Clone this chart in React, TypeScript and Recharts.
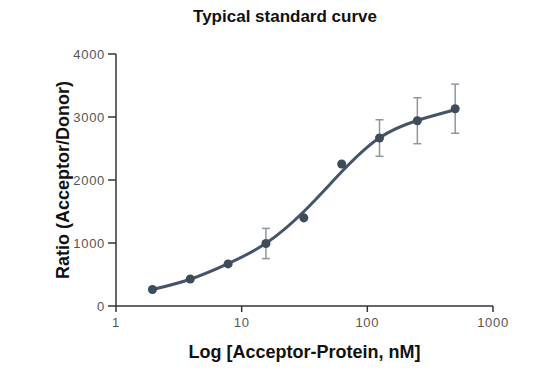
import {
  ComposedChart,
  ErrorBar,
  Line,
  Scatter,
  XAxis,
  YAxis,
} from "recharts";

// measured standards (concentration in nM, ratio, error)
const concentrations = [1.95, 3.9, 7.8, 15.6, 31.25, 62.5, 125, 250, 500];
const ratios = [261, 429, 668, 992, 1399, 2253, 2666, 2941, 3132];
const errors = [0, 0, 0, 240, 0, 0, 290, 365, 390];

// fitted curve at each concentration
const fitY = [261, 425, 672, 995, 1500, 2130, 2670, 2945, 3115];

const xTicks = [1, 10, 100, 1000];
const yTicks = [0, 1000, 2000, 3000, 4000];

const points = concentrations.map((x, i) => ({ x, y: ratios[i], err: errors[i] }));
const curve = concentrations.map((x, i) => ({ x, fit: fitY[i] }));

const FONT = "'Liberation Sans', Arial, sans-serif";
const tickStyle = { fill: "#555", fontSize: 13, fontFamily: FONT, letterSpacing: 0.7 };
const axisTitleStyle = { fontFamily: FONT, fontWeight: 700, fontSize: 18, fill: "#111" };

export default function App() {
  return (
    <div style={{ position: "absolute", left: 0, top: 0, width: 560, height: 376, background: "#fff" }}>
      <div
        style={{
          position: "absolute",
          top: 7,
          left: 0,
          width: 570,
          textAlign: "center",
          fontFamily: FONT,
          fontWeight: 700,
          fontSize: 17,
          color: "#111",
        }}
      >
        Typical standard curve
      </div>
      <ComposedChart
        width={560}
        height={376}
        margin={{ top: 54, right: 67, bottom: 0, left: 0 }}
      >
        <XAxis
          type="number"
          dataKey="x"
          scale="log"
          domain={[1, 1000]}
          ticks={xTicks}
          allowDataOverflow
          height={70}
          tickSize={6}
          tickMargin={6}
          stroke="#333"
          strokeWidth={1.5}
          tick={tickStyle}
          label={{
            value: "Log [Acceptor-Protein, nM]",
            position: "insideBottom",
            offset: 18,
            style: axisTitleStyle,
          }}
        />
        <YAxis
          type="number"
          domain={[0, 4000]}
          ticks={yTicks}
          width={116}
          tickSize={8}
          tickMargin={3}
          stroke="#333"
          strokeWidth={1.5}
          tick={tickStyle}
          label={{
            value: "Ratio (Acceptor/Donor)",
            angle: -90,
            position: "insideLeft",
            offset: 63,
            style: { ...axisTitleStyle, textAnchor: "middle" },
          }}
        />
        <Line
          data={curve}
          dataKey="fit"
          type="natural"
          stroke="#44546a"
          strokeWidth={3}
          dot={false}
          isAnimationActive={false}
        />
        <Scatter data={points} dataKey="y" fill="#3e4c59" isAnimationActive={false}>
          <ErrorBar dataKey="err" direction="y" width={4} stroke="#8c979f" strokeWidth={1.5} />
        </Scatter>
      </ComposedChart>
    </div>
  );
}
